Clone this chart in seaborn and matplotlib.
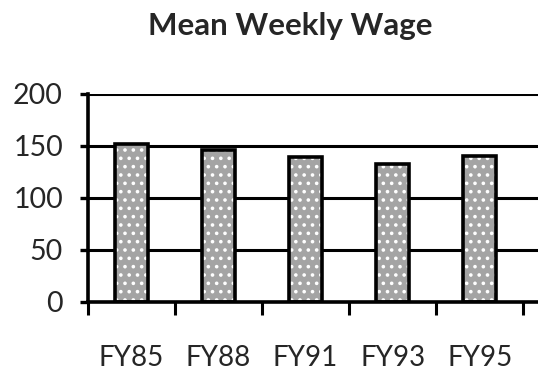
import matplotlib
matplotlib.use("Agg")
import matplotlib.pyplot as plt
import seaborn as sns
import pandas as pd
from matplotlib.patches import Rectangle
from matplotlib.ticker import FixedLocator

# Mean weekly wage by fiscal year
years = ["FY85", "FY88", "FY91", "FY93", "FY95"]
wages = [152, 146, 139, 133, 140]
y_ticks = [0, 50, 100, 150, 200]

sns.set_theme(style="white")
plt.rcParams["font.family"] = ["Lato", "DejaVu Sans"]
plt.rcParams["hatch.linewidth"] = 1.4

df = pd.DataFrame({"year": years, "wage": wages})

fig = plt.figure(figsize=(5.38, 3.70), dpi=100)
ax = fig.add_axes([88 / 538, 68 / 370, 450 / 538, 208 / 370])

sns.barplot(data=df, x="year", y="wage", color="#a4a4a4", width=0.38,
            saturation=1, ax=ax, zorder=2)

# stippled fill with a heavy black outline on each bar
for p in list(ax.patches):
    p.set_hatch("..")
    p.set_edgecolor("white")
    p.set_linewidth(0)
    ax.add_patch(Rectangle(p.get_xy(), p.get_width(), p.get_height(),
                           fill=False, ec="black", lw=2.6, zorder=3))

ax.set_ylim(0, 200)
ax.set_xlim(-0.5, 4.67)
ax.set_yticks(y_ticks)
ax.yaxis.grid(True, color="black", lw=2.2)
ax.set_axisbelow(True)

for side in ("top", "right"):
    ax.spines[side].set_visible(False)
for side in ("left", "bottom"):
    ax.spines[side].set_color("black")
    ax.spines[side].set_linewidth(2.6)

ax.tick_params(axis="y", direction="out", length=6, width=2.4, color="black",
               labelsize=20.5, pad=12, left=True)
ax.tick_params(axis="x", which="major", length=0, labelsize=20, pad=31)
ax.xaxis.set_minor_locator(FixedLocator([i - 0.5 for i in range(len(years) + 1)]))
ax.tick_params(axis="x", which="minor", direction="out", length=9.5, width=2.2,
               color="black", bottom=True)
ax.set_xlabel("")
ax.set_ylabel("")

fig.text(290 / 538, 1 - 35 / 370, "Mean Weekly Wage", ha="center", va="baseline",
         fontsize=22.5, fontweight="bold")

fig.savefig("out.png", dpi=100)
